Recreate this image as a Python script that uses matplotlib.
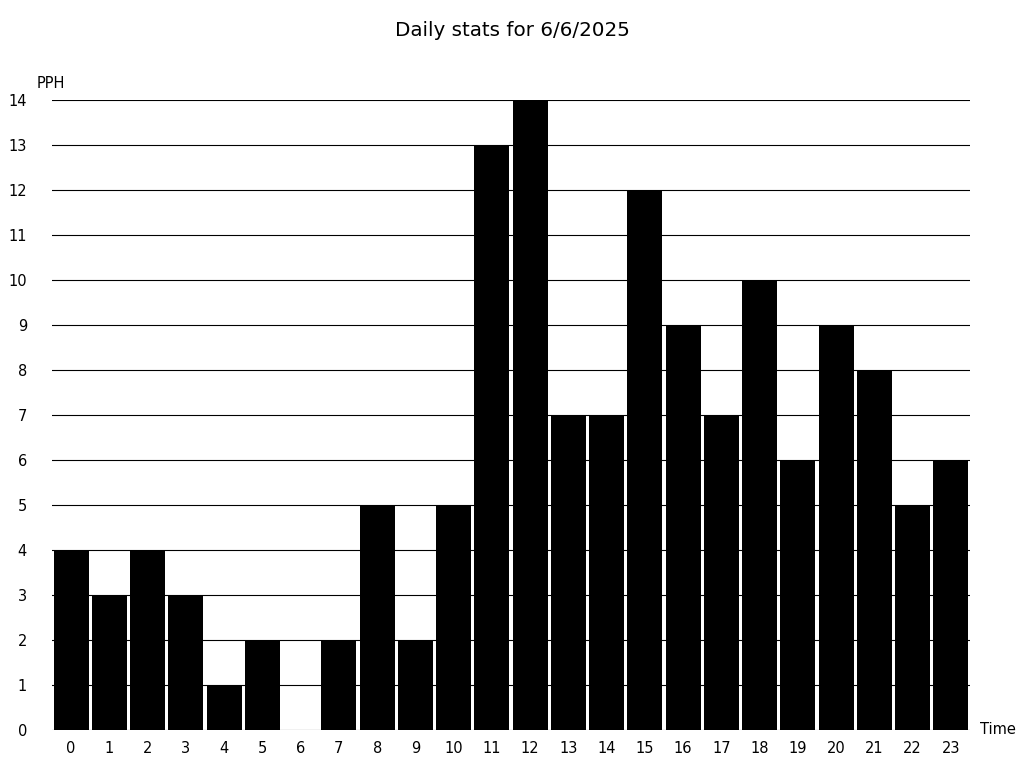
import numpy as np
import matplotlib
matplotlib.use("Agg")
import matplotlib.pyplot as plt

# hourly values
hours = list(range(24))
pph = [4, 3, 4, 3, 1, 2, 0, 2, 5, 2, 5, 13, 14, 7, 7, 12, 9, 7, 10, 6, 9, 8, 5, 6]
yticks = list(range(15))

fig = plt.figure(figsize=(10.24, 7.68), dpi=100)
ax = fig.add_axes([52 / 1024, 38 / 768, 918 / 1024, 630 / 768])

ax.bar(hours, pph, width=0.915, color="black", zorder=2)

ax.set_xlim(-0.5, 23.5)
ax.set_ylim(0, 14)
ax.set_yticks(yticks)
ax.set_xticks(hours)
ax.yaxis.grid(True, color="black", linewidth=0.8, zorder=1)
ax.set_axisbelow(True)
for s in ax.spines.values():
    s.set_visible(False)
ax.tick_params(axis="both", length=0, labelsize=10.5)
ax.tick_params(axis="y", pad=18)
ax.tick_params(axis="x", pad=8)

fig.text(37 / 1024, 1 - 84 / 768, "PPH", fontsize=10.5, va="center", ha="left")
fig.text(980 / 1024, 1 - 730 / 768, "Time", fontsize=10.5, va="center", ha="left")
fig.text(0.5, 1 - 31 / 768, "Daily stats for 6/6/2025", fontsize=14.3, ha="center", va="center")

fig.savefig("out.png", dpi=100)
